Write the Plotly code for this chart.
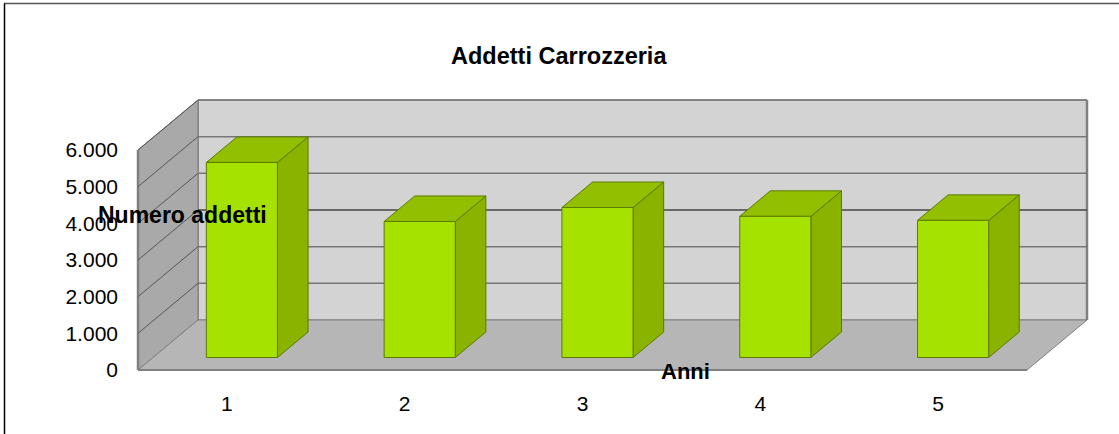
import plotly.graph_objects as go

# Data
categories = [1, 2, 3, 4, 5]
addetti = [5320, 3710, 4090, 3850, 3740]
y_ticks = [0, 1000, 2000, 3000, 4000, 5000, 6000]
y_labels = ["0", "1.000", "2.000", "3.000", "4.000", "5.000", "6.000"]
x_labels = ["1", "2", "3", "4", "5"]

# Oblique projection of the 3D box: depth (0..1) shifts right and upward
W, H = 1119, 434
PX_PER_CAT = 177.8
PX_PER_VAL = 220 / 6000
DX, DY = 60 / PX_PER_CAT, 50 / PX_PER_VAL
X0, X1 = 0.5, 5.5
VMAX = 6000
BAR_W, D0, D1 = 0.4, 0.25, 0.76
L, R, T, B = 130, 1095, 96, 376


def P(c, v, d):
    return c + d * DX, v + d * DY


def poly(pts, fill, line="rgba(0,0,0,0)", lw=1):
    xs, ys = zip(*[P(*p) for p in pts])
    return go.Scatter(x=list(xs) + [xs[0]], y=list(ys) + [ys[0]], mode="lines", fill="toself",
                      fillcolor=fill, line=dict(color=line, width=lw), hoverinfo="skip",
                      showlegend=False, cliponaxis=False)


def seg(a, b, color, lw):
    xs, ys = zip(*[P(*p) for p in (a, b)])
    return go.Scatter(x=xs, y=ys, mode="lines", line=dict(color=color, width=lw), hoverinfo="skip",
                      showlegend=False, cliponaxis=False)


fig = go.Figure()
# Walls and floor
fig.add_trace(poly([(X0, 0, 1), (X1, 0, 1), (X1, VMAX, 1), (X0, VMAX, 1)], "#d3d3d3", "#666666", 1))
fig.add_trace(poly([(X0, 0, 0), (X0, 0, 1), (X0, VMAX, 1), (X0, VMAX, 0)], "#a9a9a9", "#777777", 1))
fig.add_trace(poly([(X0, 0, 0), (X1, 0, 0), (X1, 0, 1), (X0, 0, 1)], "#b6b6b6", "#808080", 1))
fig.add_trace(seg((X1, 0, 1), (X1, VMAX, 1), "#808080", 2.5))
fig.add_trace(seg((X0, 0, 0), (X0, VMAX, 0), "#808080", 2.5))
fig.add_trace(seg((X0, 0, 0), (X1, 0, 0), "#808080", 2))
# Gridlines
for v in y_ticks[1:]:
    col = "#444444" if v == 3000 else "#777777"
    fig.add_trace(seg((X0, v, 0), (X0, v, 1), "#555555", 1))
    fig.add_trace(seg((X0, v, 1), (X1, v, 1), col, 1.5))
# Bars
for c, v in zip(categories, addetti):
    a, b = c - BAR_W / 2, c + BAR_W / 2
    edge = "#5c7a00"
    fig.add_trace(poly([(b, 0, D0), (b, 0, D1), (b, v, D1), (b, v, D0)], "#8ab300", edge))
    fig.add_trace(poly([(a, v, D0), (b, v, D0), (b, v, D1), (a, v, D1)], "#92c000", edge))
    fig.add_trace(poly([(a, 0, D0), (b, 0, D0), (b, v, D0), (a, v, D0)], "#a6e200", edge))

fig.update_layout(
    width=W, height=H, autosize=False, margin=dict(l=L, r=W - R, t=T, b=H - B),
    plot_bgcolor="white", paper_bgcolor="white", showlegend=False,
    font=dict(family="Liberation Sans", size=21, color="black"),
    shapes=[
        dict(type="line", xref="paper", yref="paper", x0=(4 - L) / (R - L), x1=(1119 - L) / (R - L),
             y0=(B - 3.5) / (B - T), y1=(B - 3.5) / (B - T), line=dict(color="#555555", width=1.5)),
        dict(type="line", xref="paper", yref="paper", x0=(4.5 - L) / (R - L), x1=(4.5 - L) / (R - L),
             y0=(B - 3.5) / (B - T), y1=(B - 434) / (B - T), line=dict(color="black", width=1.5)),
    ],
    annotations=[
        dict(text="<b>Addetti Carrozzeria</b>", xref="paper", yref="paper", x=(558.5 - L) / (R - L),
             y=(B - 56) / (B - T), showarrow=False, font=dict(size=23.5), xanchor="center", yanchor="middle"),
        dict(text="<b>Numero addetti</b>", xref="paper", yref="paper", x=(182.5 - L) / (R - L),
             y=(B - 215) / (B - T), showarrow=False, font=dict(size=23), xanchor="center", yanchor="middle"),
        dict(text="<b>Anni</b>", xref="paper", yref="paper", x=(685 - L) / (R - L),
             y=(B - 371) / (B - T), showarrow=False, font=dict(size=22), xanchor="center", yanchor="middle"),
    ],
)
fig.update_xaxes(range=[0.5 + (L - 138) / PX_PER_CAT, 0.5 + (R - 138) / PX_PER_CAT], tickmode="array",
                 tickvals=categories, ticktext=x_labels, showgrid=False, zeroline=False, showline=False,
                 ticks="", ticklabelstandoff=13, tickfont=dict(size=21))
fig.update_yaxes(range=[(370 - B) / PX_PER_VAL, (370 - T) / PX_PER_VAL], tickmode="array",
                 tickvals=y_ticks, ticktext=y_labels, showgrid=False, zeroline=False, showline=False,
                 ticks="", ticklabelstandoff=11, tickfont=dict(size=21))

fig.write_html("out.html", config=dict(displayModeBar=False),
               post_script="document.body.style.margin='0';")
